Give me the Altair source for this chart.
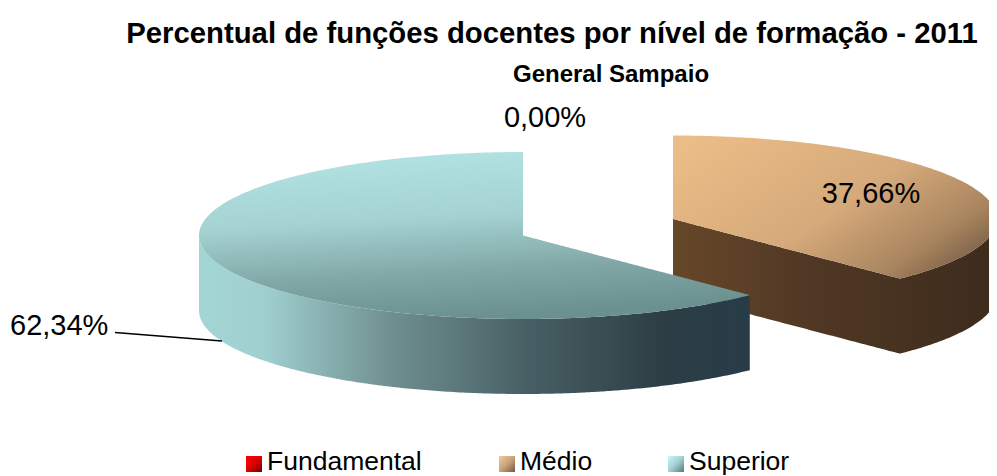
import numpy as np
import pandas as pd
import altair as alt

categories = ["Fundamental", "Médio", "Superior"]
shares = [0.00, 37.66, 62.34]
value_labels = ["0,00%", "37,66%", "62,34%"]
title_text = "Percentual de funções docentes por nível de formação - 2011"
subtitle_text = "General Sampaio"

W, H = 981, 468
RX, RY, DEPTH = 324, 83.5, 75
MEDIO_C = (673, 219)
SUP_C = (523, 235.5)


def grad(stops, x1=0, y1=0, x2=1, y2=0):
    return {"gradient": "linear", "x1": x1, "y1": y1, "x2": x2, "y2": y2,
            "stops": [{"offset": o, "color": c} for o, c in stops]}


def slice_tables(c, start, end):
    """Outline of an exploded pie slice; angles run clockwise from 12 o'clock."""
    cx, cy = c
    tip_t = np.radians(end if start == 0 else start)
    tx, ty = cx + RX * np.sin(tip_t), cy - RY * np.cos(tip_t)
    if start == 0:  # slice on the right: apex -> tip edge below, arc above
        ts = np.radians(np.linspace(0, 90, 160))
        xs = cx + RX * np.sin(ts)
        xs = np.unique(np.append(xs, tx))
        u = np.clip((xs - cx) / RX, -1, 1)
        arc = RY * np.sqrt(1 - u ** 2)
        up = cy - arc
        low = np.where(xs <= tx, cy + (ty - cy) * (xs - cx) / (tx - cx), cy + arc)
        return pd.DataFrame({"x": xs, "y": up, "y2": low}), pd.DataFrame({"x": xs, "y": low, "y2": low + DEPTH})
    # slice on the left: runs round the front and back of the ellipse
    ts = np.radians(np.linspace(-90, 0, 160))
    x_l = cx + RX * np.sin(ts)
    x_r = np.linspace(cx + 0.01, tx, 100)
    xs = np.concatenate([x_l, x_r])
    u = np.clip((xs - cx) / RX, -1, 1)
    arc = RY * np.sqrt(1 - u ** 2)
    up = np.concatenate([cy - arc[:len(x_l)], cy + (ty - cy) * (x_r - cx) / (tx - cx)])
    low = cy + arc
    return pd.DataFrame({"x": xs, "y": up, "y2": low}), pd.DataFrame({"x": xs, "y": low, "y2": low + DEPTH})


medio_end = shares[1] / 100 * 360
m_top, m_wall = slice_tables(MEDIO_C, 0, medio_end)
s_top, s_wall = slice_tables(SUP_C, medio_end, 360)

xs = alt.Scale(domain=[8, W + 8], range=[0, W], nice=False, zero=False)
ys = alt.Scale(domain=[8, H + 8], range=[0, H], nice=False, zero=False)


def area(df, fill):
    return alt.Chart(df).mark_area(fill=fill).encode(
        x=alt.X("x:Q", scale=xs, axis=None),
        y=alt.Y("y:Q", scale=ys, axis=None),
        y2="y2:Q",
    )


def label(text, x, y, size, bold=False, align="left"):
    return alt.Chart(pd.DataFrame({"t": [text]})).mark_text(
        font="Liberation Sans", fontSize=size, fontWeight="bold" if bold else "normal",
        align=align, baseline="alphabetic", color="#000000",
    ).encode(text="t:N", x=alt.value(x - 8), y=alt.value(y - 8))


def swatch(x0, y0, size, fill):
    return alt.Chart(pd.DataFrame({"a": [0]})).mark_rect(fill=fill).encode(
        x=alt.value(x0 - 8), x2=alt.value(x0 + size - 8),
        y=alt.value(y0 - 8), y2=alt.value(y0 + size - 8),
    )


medio_wall_fill = grad([(0, "#674729"), (0.45, "#4f3724"), (1, "#3d2b1c")])
medio_top_fill = grad([(0, "#ecbd87"), (0.55, "#d5a97a"), (0.85, "#a9855f"), (1, "#7d6249")], 0, 0.1, 1, 0.75)
sup_wall_fill = grad([(0, "#a4d6d6"), (0.12, "#a0cfcf"), (0.35, "#6f8f90"), (0.6, "#475f64"), (0.85, "#2c3d44"), (1, "#283c48")])
sup_top_fill = grad([(0, "#b4e3e3"), (0.4, "#a5d3d3"), (0.75, "#7fa5a4"), (1, "#6a9090")], 0.25, 0, 0.45, 1)

leader = alt.Chart(pd.DataFrame({"x": [115.0], "y": [332.5], "x2": [222.0], "y2": [341.0]})).mark_rule(
    color="#000000", strokeWidth=1.4).encode(
    x=alt.X("x:Q", scale=xs, axis=None), y=alt.Y("y:Q", scale=ys, axis=None), x2="x2:Q", y2="y2:Q")

layers = [
    area(m_wall, medio_wall_fill),
    area(m_top, medio_top_fill),
    area(s_wall, sup_wall_fill),
    area(s_top, sup_top_fill),
    leader,
    label(title_text, 552, 43, 29.3, True, "center"),
    label(subtitle_text, 611, 82, 24, True, "center"),
    label(value_labels[0], 545, 127, 29, False, "center"),
    label(value_labels[1], 871, 203, 29, False, "center"),
    label(value_labels[2], 10, 335, 29, False, "left"),
    swatch(246, 456, 16, grad([(0, "#ff0000"), (0.5, "#dd0000"), (1, "#700000")], 0, 0, 1, 1)),
    swatch(499, 456, 16, grad([(0, "#f6c99a"), (0.5, "#c9a27a"), (1, "#6f5a45")], 0, 0, 1, 1)),
    swatch(668, 456, 16, grad([(0, "#c9f8f8"), (0.5, "#a3d0d0"), (1, "#567a7a")], 0, 0, 1, 1)),
    label(categories[0], 267, 470, 26.5),
    label(categories[1], 520, 470, 26.5),
    label(categories[2], 689, 470, 26.5),
]

chart = alt.layer(*layers).properties(
    width=W, height=H, padding=0, autosize=alt.AutoSizeParams(type="none"), background="#ffffff",
).configure_view(stroke=None)

chart.save("out.html", embed_options={"renderer": "svg", "actions": False})
